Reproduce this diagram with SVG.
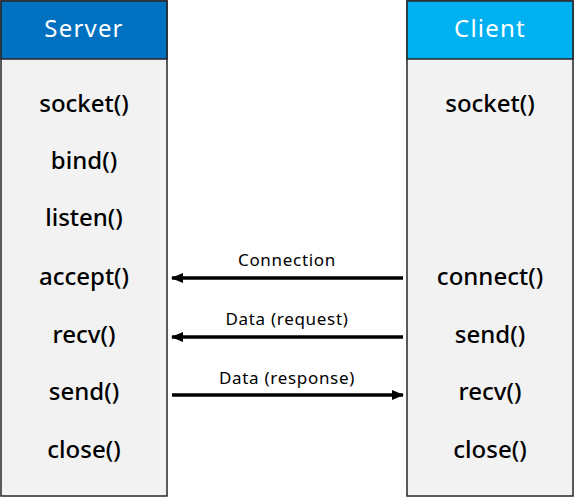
<svg xmlns="http://www.w3.org/2000/svg" width="575" height="498" viewBox="0 0 575 498">
<style>
.box{fill:#f2f2f2;stroke:#262626;stroke-width:1.5}
.hd{stroke:#262626;stroke-width:1.5}
.ht{font-family:"Noto Sans","Open Sans",sans-serif;font-size:24px;fill:#ffffff;text-anchor:middle;letter-spacing:1.2px}
.it{font-family:"Noto Sans","Open Sans",sans-serif;font-size:24px;font-weight:500;fill:#000000;text-anchor:middle}
.lb{font-family:"Noto Sans","Open Sans",sans-serif;font-size:17px;fill:#000000;text-anchor:middle;letter-spacing:0.7px}
.ar{stroke:#000;stroke-width:3.5;fill:none}
</style>
<defs>
<marker id="ah" viewBox="0 0 12 10" refX="11" refY="5" markerWidth="12" markerHeight="10" markerUnits="userSpaceOnUse" orient="auto">
<path d="M0,0 L12,5 L0,10 Z" fill="#000"/>
</marker>
</defs>
<rect width="575" height="498" fill="#ffffff"/>
<g id="server">
<rect class="box" x="1" y="1" width="166" height="495"/>
<rect class="hd" x="1" y="1" width="166" height="58" fill="#0070c0"/>
<text class="ht" x="84" y="37">Server</text>
<text class="it" x="84" y="112">socket()</text>
<text class="it" x="84" y="169">bind()</text>
<text class="it" x="84" y="226">listen()</text>
<text class="it" x="84" y="285">accept()</text>
<text class="it" x="84" y="343">recv()</text>
<text class="it" x="84" y="400">send()</text>
<text class="it" x="84" y="458">close()</text>
</g>
<g id="client">
<rect class="box" x="407" y="1" width="166" height="495"/>
<rect class="hd" x="407" y="1" width="166" height="58" fill="#00b0f0"/>
<text class="ht" x="490" y="37">Client</text>
<text class="it" x="490" y="112">socket()</text>
<text class="it" x="490" y="285">connect()</text>
<text class="it" x="490" y="343">send()</text>
<text class="it" x="490" y="400">recv()</text>
<text class="it" x="490" y="458">close()</text>
</g>
<g id="connectors">
<line class="ar" x1="403" y1="278" x2="172" y2="278" marker-end="url(#ah)"/>
<line class="ar" x1="403" y1="337" x2="172" y2="337" marker-end="url(#ah)"/>
<line class="ar" x1="172" y1="395" x2="403" y2="395" marker-end="url(#ah)"/>
<text class="lb" x="287" y="266">Connection</text>
<text class="lb" x="287" y="325">Data (request)</text>
<text class="lb" x="287" y="384">Data (response)</text>
</g>
</svg>
